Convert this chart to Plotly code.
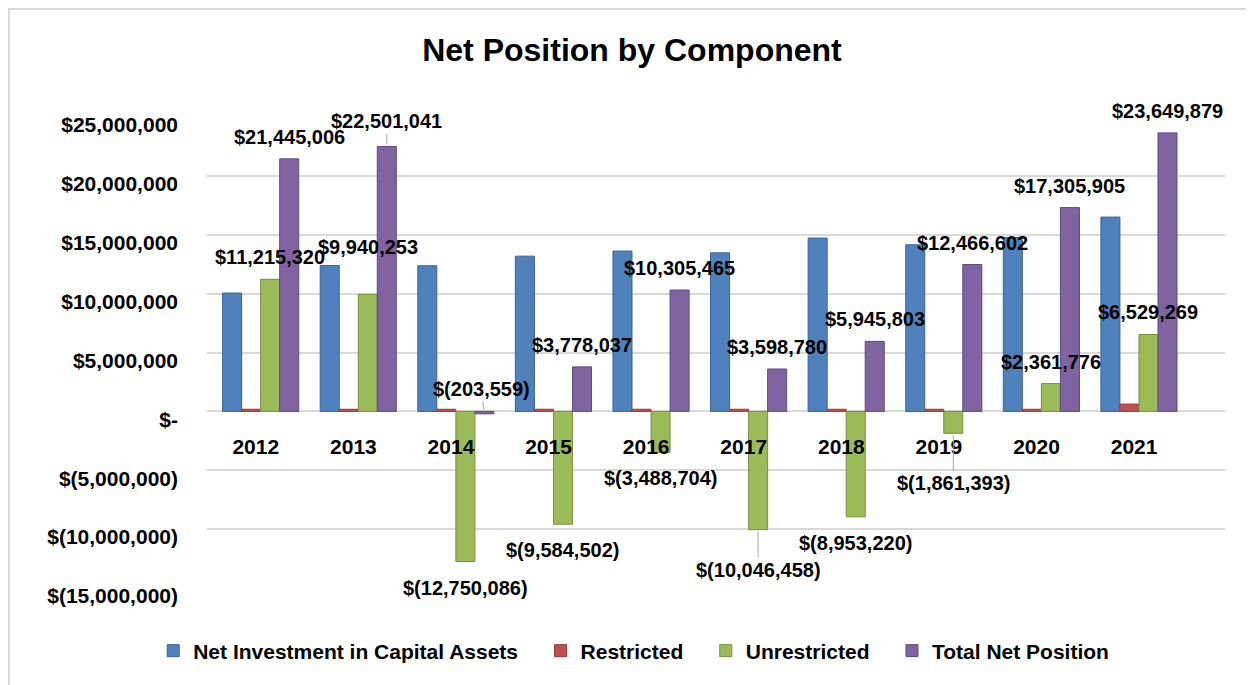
import plotly.graph_objects as go

years = ["2012", "2013", "2014", "2015", "2016", "2017", "2018", "2019", "2020", "2021"]
net_investment = [10049686, 12380788, 12366527, 13182539, 13614169, 13465238, 14719023, 14147995, 14764129, 16500610]
restricted = [180000, 180000, 180000, 180000, 180000, 180000, 180000, 180000, 180000, 620000]
unrestricted = [11215320, 9940253, -12750086, -9584502, -3488704, -10046458, -8953220, -1861393, 2361776, 6529269]
total_net = [21445006, 22501041, -203559, 3778037, 10305465, 3598780, 5945803, 12466602, 17305905, 23649879]

tick_vals = [-15000000, -10000000, -5000000, 0, 5000000, 10000000, 15000000, 20000000, 25000000]
tick_text = ["$(15,000,000)", "$(10,000,000)", "$(5,000,000)", "$-", "$5,000,000",
             "$10,000,000", "$15,000,000", "$20,000,000", "$25,000,000"]

BLUE = "#4F81BD"
RED = "#C0504D"
GREEN = "#9BBB59"
PURPLE = "#8064A2"
FONT = "Liberation Sans"
BARGAP = 0.22
SHIFT = 0.05  # clusters sit a little right of the year labels, as in the 3D original
PAD = "\u00a0\u00a0\u00a0"  # extra room between legend entries


def money(v):
    return f"$({abs(v):,})" if v < 0 else f"${v:,}"


fig = go.Figure()
bar_w = (1 - BARGAP) / 4
series = [
    ("Net Investment in Capital Assets", net_investment, BLUE, "#3A6391"),
    ("Restricted", restricted, RED, "#923B39"),
    ("Unrestricted", unrestricted, GREEN, "#76903F"),
    ("Total Net Position", total_net, PURPLE, "#5E4979"),
]
for k, (name, vals, color, edge) in enumerate(series):
    fig.add_bar(x=years, y=vals, name=name + PAD, marker_color=color,
                width=bar_w, offset=(k - 2) * bar_w + SHIFT,
                marker_line=dict(color=edge, width=1))

# data labels for Unrestricted (slot 2) and Total (slot 3)
# extra nudges (px) for labels moved by hand in the original; leader-line offsets
nudge = {("u", 1): 25}
leader = {("u", 5): 40, ("u", 7): 50, ("t", 1): 25, ("t", 2): 25}
label_font = dict(family=FONT, size=20, color="black", weight="bold")
for key, slot, vals in [("u", 2, unrestricted), ("t", 3, total_net)]:
    for i, v in enumerate(vals):
        xpos = i + (slot - 1.5) * bar_w + SHIFT
        up = v >= 0 or (key == "t" and i == 2)
        extra = nudge.get((key, i), 0)
        if (key, i) in leader:
            off = leader[(key, i)]
            fig.add_annotation(x=xpos, y=v, text=money(v), showarrow=True, arrowhead=0,
                               arrowwidth=1, arrowcolor="#A6A6A6", ax=-3 if (key, i) == ("t", 2) else 0,
                               ay=-off if up else off, standoff=2, font=label_font)
        else:
            fig.add_annotation(x=xpos, y=v, text=money(v), showarrow=False,
                               yanchor="bottom" if up else "top",
                               yshift=(9 + extra) if up else (-13 + extra),
                               font=label_font)

# chart border (top and left edges visible in the original)
fig.add_shape(type="rect", xref="paper", yref="paper", x0=-0.1945, x1=1.05, y0=-0.25, y1=1.2293,
              line=dict(color="#D9D9D9", width=2), layer="below")

fig.update_layout(
    width=1254, height=685,
    autosize=False,
    template="plotly_white",
    barmode="group", bargap=BARGAP, bargroupgap=0,
    margin=dict(l=199, r=37, t=109, b=105, autoexpand=False),
    title=dict(text="Net Position by Component", x=0.4976, xref="container", xanchor="center",
               y=0.9387, yref="container", yanchor="middle",
               font=dict(family=FONT, size=32, color="black", weight="bold")),
    legend=dict(orientation="h", x=0.428, xanchor="center",
                y=-0.1338, yanchor="middle",
                font=dict(family=FONT, size=21, color="black", weight="bold")),
    plot_bgcolor="white", paper_bgcolor="white",
    showlegend=True,
)
fig.update_yaxes(range=[-15000000, 25000000], tickvals=tick_vals, ticktext=tick_text,
                 gridcolor="#D9D9D9", gridwidth=2, zeroline=False, showline=False,
                 ticklabelstandoff=28, ticklabelshift=8, automargin=False,
                 tickfont=dict(family=FONT, size=21, color="black", weight="bold"))
fig.update_xaxes(anchor="free", position=15 / 40, showline=False, showgrid=False,
                 ticks="", ticklabelstandoff=21, automargin=False, tickangle=0,
                 tickfont=dict(family=FONT, size=21, color="black", weight="bold"))

fig.write_html("out.html")
